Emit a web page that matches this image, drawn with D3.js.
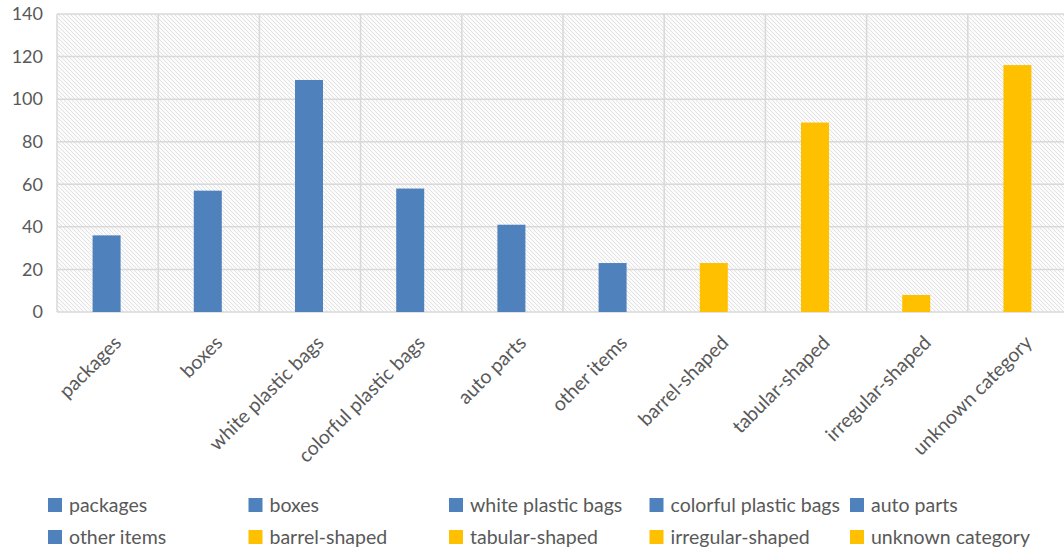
<!DOCTYPE html>
<html>
<head>
<meta charset="utf-8">
<script src="https://cdn.jsdelivr.net/npm/d3@7"></script>
<style>
  html, body { margin: 0; padding: 0; background: #fff; }
  svg { display: block; font-family: Lato, "Open Sans", sans-serif; }
</style>
</head>
<body>
<svg id="chart" width="1064" height="551"></svg>
<script>
// Item counts per category
const categories = ["packages", "boxes", "white plastic bags", "colorful plastic bags", "auto parts",
                    "other items", "barrel-shaped", "tabular-shaped", "irregular-shaped", "unknown category"];
const values = [36, 57, 109, 58, 41, 23, 23, 89, 8, 116];
const groups = ["bag", "bag", "bag", "bag", "bag", "bag", "shape", "shape", "shape", "shape"];
const yTicks = [0, 20, 40, 60, 80, 100, 120, 140];

const colorOf = d3.scaleOrdinal().domain(["bag", "shape"]).range(["#4f81bd", "#ffc000"]);

const svg = d3.select("#chart");
const plot = { left: 57, top: 14, right: 1069, bottom: 312 };

// Diagonal hatch used for the plot background
const defs = svg.append("defs");
const pat = defs.append("pattern")
  .attr("id", "hatch").attr("patternUnits", "userSpaceOnUse")
  .attr("width", 4).attr("height", 4);
pat.append("rect").attr("width", 4).attr("height", 4).attr("fill", "#fbfbfb");
pat.append("path").attr("d", "M-1,-1 L5,5 M-1,3 L1,5 M3,-1 L5,1")
  .attr("stroke", "#e2e2e2").attr("stroke-width", 1);

const x = d3.scaleBand().domain(categories).range([plot.left, plot.right]).paddingInner(0).paddingOuter(0);
const y = d3.scaleLinear().domain([0, 140]).range([plot.bottom, plot.top]);

svg.append("rect")
  .attr("x", plot.left).attr("y", plot.top)
  .attr("width", plot.right - plot.left).attr("height", plot.bottom - plot.top)
  .attr("fill", "url(#hatch)");

// Horizontal gridlines
svg.append("g").selectAll("line").data(yTicks).join("line")
  .attr("x1", plot.left).attr("x2", plot.right)
  .attr("y1", d => y(d)).attr("y2", d => y(d))
  .attr("stroke", "#d9d9d9").attr("stroke-width", 1.5);

// Vertical gridlines at category boundaries
svg.append("g").selectAll("line").data(categories).join("line")
  .attr("x1", d => x(d)).attr("x2", d => x(d))
  .attr("y1", plot.top).attr("y2", plot.bottom)
  .attr("stroke", "#d9d9d9").attr("stroke-width", 1.5);

// Bars
const barW = 28;
svg.append("g").selectAll("rect").data(categories).join("rect")
  .attr("x", d => x(d) + x.bandwidth() / 2 - barW / 2 - 1)
  .attr("y", (d, i) => y(values[i]))
  .attr("width", barW)
  .attr("height", (d, i) => y(0) - y(values[i]))
  .attr("fill", (d, i) => colorOf(groups[i]));

// Y axis
const yAxis = svg.append("g")
  .attr("transform", `translate(${plot.left},0)`)
  .call(d3.axisLeft(y).tickValues(yTicks).tickSize(0).tickPadding(14));
yAxis.select(".domain").remove();
yAxis.selectAll("text").attr("font-size", 18).attr("fill", "#595959")
  .attr("font-family", "Lato, sans-serif");

// X axis with rotated labels
const xAxis = svg.append("g")
  .attr("transform", `translate(0,${plot.bottom})`)
  .call(d3.axisBottom(x).tickSize(0).tickPadding(0));
xAxis.select(".domain").remove();
xAxis.selectAll("text")
  .attr("font-size", 19.5).attr("fill", "#595959")
  .attr("font-family", "Lato, sans-serif")
  .attr("text-anchor", "end")
  .attr("dy", null).attr("y", 0)
  .attr("transform", "translate(15,32) rotate(-45)");

// Legend: five columns, two rows
const legend = svg.append("g");
const item = legend.selectAll("g").data(categories).join("g")
  .attr("transform", (d, i) => `translate(${48 + (i % 5) * 200.5},${505 + Math.floor(i / 5) * 32})`);
item.append("rect").attr("x", 0).attr("y", -7).attr("width", 14).attr("height", 14)
  .attr("fill", (d, i) => colorOf(groups[i]));
item.append("text").attr("x", 21).attr("y", 0).attr("dy", "0.35em")
  .attr("font-size", 19.5).attr("fill", "#595959")
  .text(d => d);
</script>
</body>
</html>
